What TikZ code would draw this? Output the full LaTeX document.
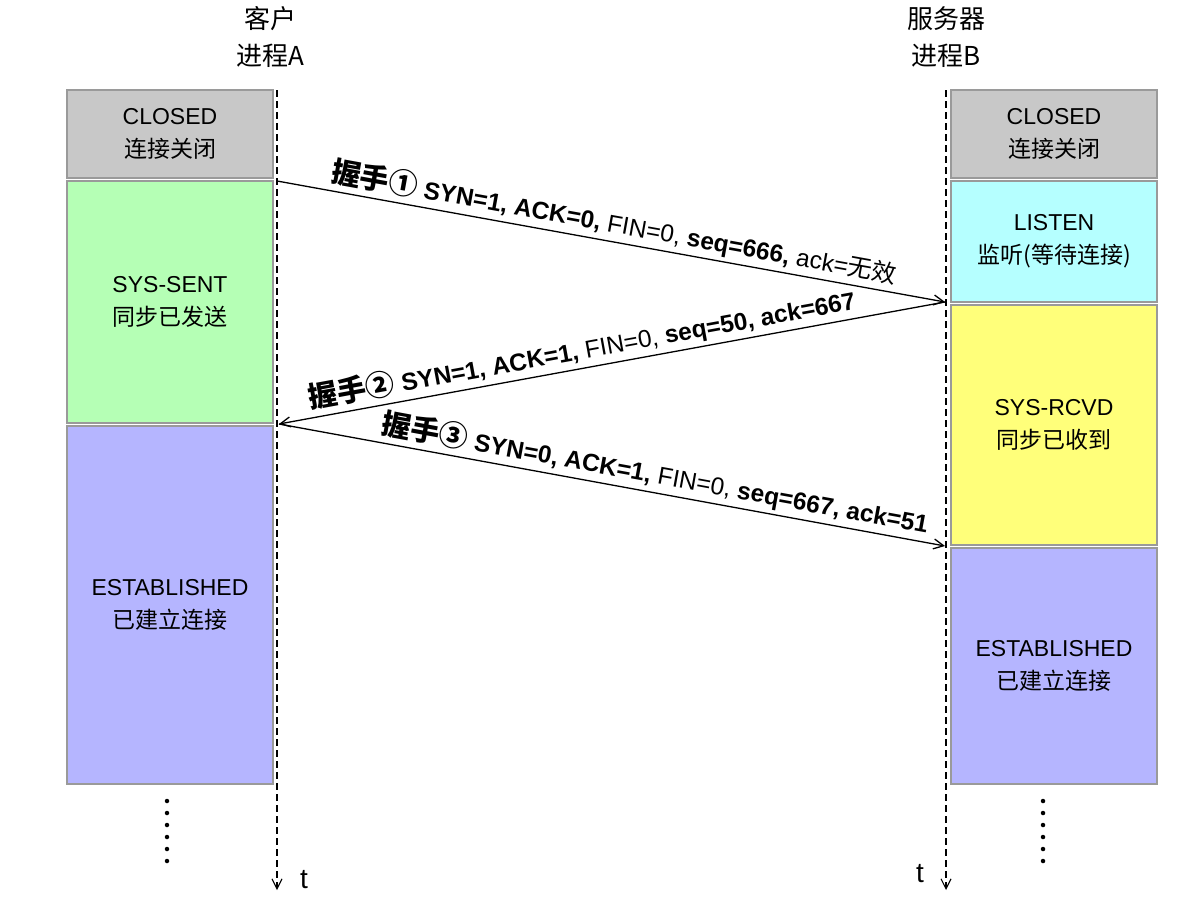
\documentclass[tikz,border=0pt]{standalone}
\usepackage{fontspec}
\setmainfont{Liberation Sans}
\newfontfamily\cjk{Noto Sans CJK SC}
\usetikzlibrary{arrows.meta}
\definecolor{closedc}{HTML}{C8C8C8}
\definecolor{sentc}{HTML}{B5FFB5}
\definecolor{listenc}{HTML}{B5FFFF}
\definecolor{rcvdc}{HTML}{FFFF7A}
\definecolor{estc}{HTML}{B5B5FF}
\definecolor{edgec}{HTML}{9A9A9A}
\newcommand\hsk[1]{{\cjk\bfseries\fontsize{29}{29}\selectfont 握手#1}}
\newcommand\cn[1]{{\cjk #1}}
\begin{document}
\begin{tikzpicture}[x=1pt,y=-1pt,
  statebox/.style={draw=edgec, line width=1.2pt, minimum width=206pt, inner sep=0pt, outer sep=0pt,
    anchor=north west, align=center, font=\fontsize{23}{33}\selectfont},
  head/.style={align=center, font=\cjk\fontsize{26}{37}\selectfont},
  life/.style={line width=1.1pt, dash pattern=on 7pt off 4pt, -{Straight Barb[length=10pt,width=10pt]}},
  msg/.style={line width=1.3pt, -{Straight Barb[length=10pt,width=10pt]}},
  lbl/.style={sloped, above, inner sep=3.5pt, font=\fontsize{24.5}{28}\selectfont},
  tlab/.style={font=\fontsize{28}{30}\selectfont},
  dotm/.style={fill=black, circle, inner sep=0pt, minimum size=4.5pt}
]
\useasboundingbox (0,0) rectangle (1190,910);
\fill[white] (0,0) rectangle (1190,910);

% headers
\node[head] (ha) at (270,37) {客户\\进程A};
\node[head] (hb) at (946,37) {服务器\\进程B};

% left boxes
\node[statebox, fill=closedc, minimum height=88pt] (lc) at (67,90) {CLOSED\\\cn{连接关闭}};
\node[statebox, fill=sentc, minimum height=242pt] (ls) at (67,181) {SYS-SENT\\\cn{同步已发送}};
\node[statebox, fill=estc, minimum height=358pt] (le) at (67,426) {ESTABLISHED\\\cn{已建立连接}};

% right boxes
\node[statebox, fill=closedc, minimum height=88pt] (rc) at (951,90) {CLOSED\\\cn{连接关闭}};
\node[statebox, fill=listenc, minimum height=121pt] (rl) at (951,181) {LISTEN\\\cn{监听(等待连接)}};
\node[statebox, fill=rcvdc, minimum height=240pt] (rr) at (951,305) {SYS-RCVD\\\cn{同步已收到}};
\node[statebox, fill=estc, minimum height=236pt] (re) at (951,548) {ESTABLISHED\\\cn{已建立连接}};

% lifelines
\coordinate (la0) at (277,90);
\coordinate (la1) at (277,890);
\coordinate (rb0) at (946,90);
\coordinate (rb1) at (946,890);
\draw[life] (la0) -- (la1);
\draw[life] (rb0) -- (rb1);
\node[tlab] (tl) at (304,880) {t};
\node[tlab] (tr) at (920,874) {t};

% message points
\coordinate (p1) at (277,181);
\coordinate (q1) at (945,302);
\coordinate (p2) at (279,424);
\coordinate (q2) at (945,546);

\draw[msg] (p1) -- node[lbl, pos=0.5] {\hsk{①} \textbf{SYN=1, ACK=0,} FIN=0, \textbf{seq=666,} ack=\cn{无效}} (q1);
\draw[msg] (q1) -- node[lbl, pos=0.54] {\hsk{②} \textbf{SYN=1, ACK=1,} FIN=0, \textbf{seq=50, ack=667}} (p2);
\draw[msg] (p2) -- node[lbl, pos=0.56] {\hsk{③} \textbf{SYN=0, ACK=1,} FIN=0, \textbf{seq=667, ack=51}} (q2);

% dots
\foreach \i in {0,...,5} {
  \node[dotm] (dl\i) at (167,801+12*\i) {};
  \node[dotm] (dr\i) at (1043,801+12*\i) {};
}
\end{tikzpicture}
\end{document}
